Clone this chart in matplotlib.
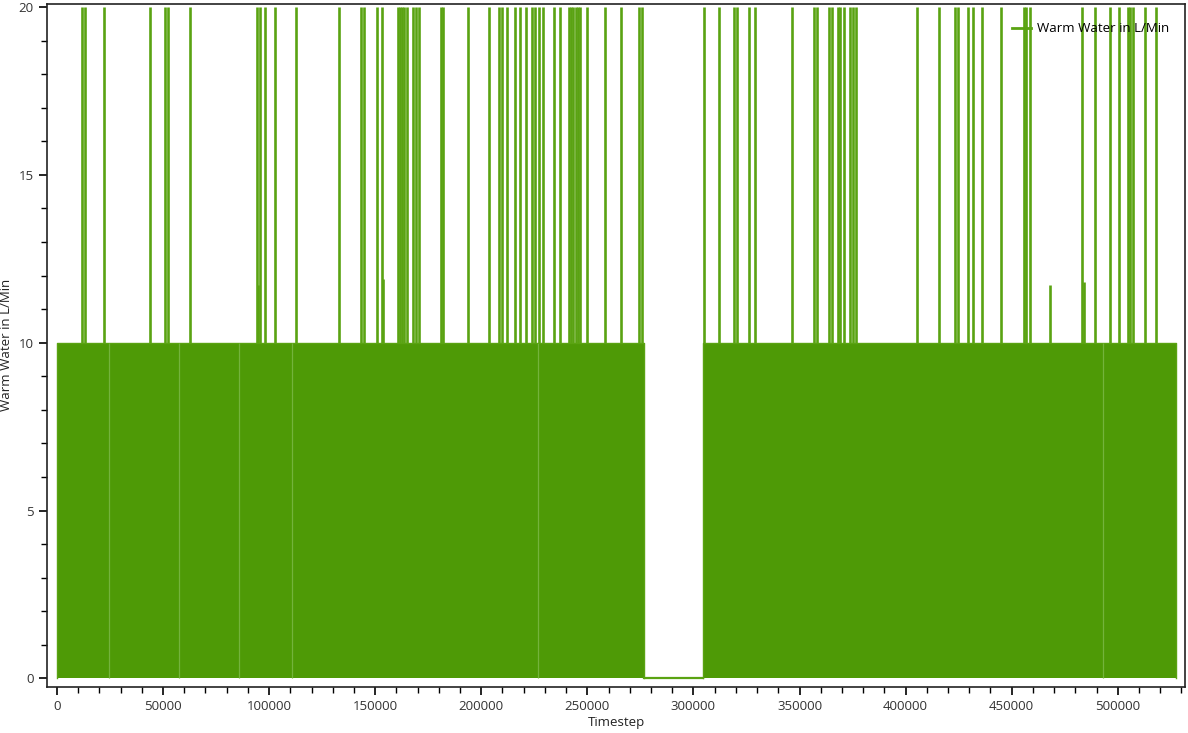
import matplotlib
matplotlib.use("Agg")
import matplotlib.pyplot as plt
from matplotlib.ticker import MultipleLocator
from matplotlib.lines import Line2D

# ---------------- data ----------------
on_start = [0, 304400]          # periods where flow toggles 0 <-> 10 rapidly
on_end = [276600, 527500]
base_level = 10
off_start = 276600               # flat zero period
off_end = 304400

spike20_x = [11920, 13340, 22150, 43690, 51040, 52310, 62540, 94110, 95660,
             97880, 102730, 112770, 133030, 143260, 144530, 150940, 153160,
             160560, 161640, 162580, 163530, 164940, 167910, 169040, 170450,
             180820, 181900, 193540, 203720, 208290, 209570, 212210, 215840,
             218190, 220880, 223990, 225120, 227000, 228890, 234360, 237040,
             241140, 242220, 243310, 244440, 245520, 246610, 249910, 258390,
             265790, 274410, 275830, 304900, 311970, 319040, 320310, 326250,
             329080, 346370, 356600, 358290, 363670, 365080, 367910, 369130,
             370740, 373850, 374980, 376390, 405420, 415790, 423190, 424740,
             429450, 431810, 435910, 445190, 455700, 456640, 458530, 483370,
             489160, 496230, 500610, 504860, 505660, 507210, 512730, 518240]
spike20_y = 20

spike_mid_x = [94700, 153600, 468000, 484000]
spike_mid_y = [11.72, 11.9, 11.72, 11.8]

gap_line_x = [24500, 57500, 85800, 110700, 226700, 492900]

series_name = "Warm Water in L/Min"
x_label = "Timestep"
y_label = "Warm Water in L/Min"

# ---------------- style ----------------
GREEN = "#4e9a06"
SPIKE = "#5aa312"
LIGHT = "#74b33c"

plt.rcParams["font.family"] = ["Open Sans", "DejaVu Sans"]

fig = plt.figure(figsize=(11.88, 7.33), dpi=100)
ax = fig.add_axes([0.0395, 0.063, 0.958, 0.932])

for s, e in zip(on_start, on_end):
    ax.fill_between([s, e], 0, base_level, color=GREEN, linewidth=0, zorder=2)
    ax.plot([s, s, e, e], [0, base_level, base_level, 0], color=SPIKE,
            linewidth=1.0, zorder=3)

ax.plot([off_start, off_end], [0, 0], color=SPIKE, linewidth=1.6, zorder=3)

ax.vlines(gap_line_x, 0, base_level, color=LIGHT, linewidth=0.9, zorder=3)
ax.vlines(spike20_x, base_level, spike20_y, color=SPIKE, linewidth=1.9, zorder=3)
ax.vlines(spike_mid_x, base_level, spike_mid_y, color=SPIKE, linewidth=1.9, zorder=3)

ax.set_xlim(-4700, 531700)
ax.set_ylim(-0.25, 20.1)

ax.xaxis.set_major_locator(MultipleLocator(50000))
ax.xaxis.set_minor_locator(MultipleLocator(10000))
ax.yaxis.set_major_locator(MultipleLocator(5))
ax.yaxis.set_minor_locator(MultipleLocator(1))

ax.tick_params(which="major", direction="out", length=6, width=1.2,
               color="black", labelsize=9.5, labelcolor="#333333")
ax.tick_params(which="minor", direction="out", length=4, width=1.0,
               color="black")
for sp in ax.spines.values():
    sp.set_color("#222222")
    sp.set_linewidth(1.2)

ax.set_xlabel(x_label, fontsize=9.5, labelpad=2, color="#222222")
ax.set_ylabel(y_label, fontsize=9.5, labelpad=4, color="#222222")

handle = Line2D([], [], color=SPIKE, linewidth=2)
ax.legend([handle], [series_name], loc="upper right", frameon=False,
          fontsize=9.5, handlelength=1.4, handletextpad=0.5,
          bbox_to_anchor=(0.997, 0.99))

fig.savefig("out.png", dpi=100)
